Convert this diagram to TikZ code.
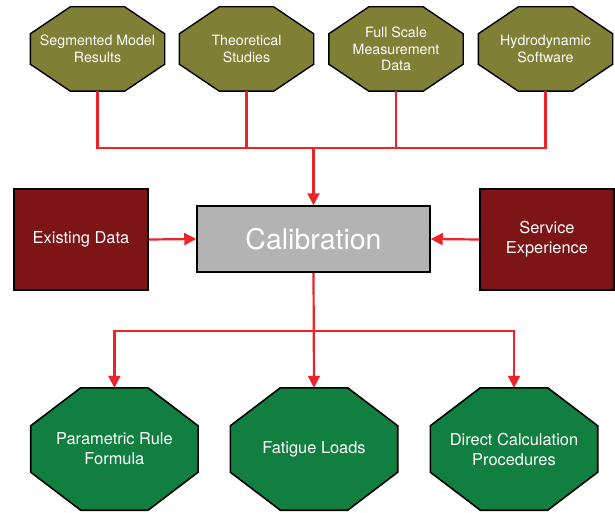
\documentclass[tikz,border=0pt]{standalone}
\usepackage{fontspec}
\setmainfont{TeX Gyre Heros}
\usetikzlibrary{arrows.meta,calc,backgrounds}

\definecolor{olivebox}{HTML}{7F7F35}
\definecolor{darkredbox}{HTML}{7D1416}
\definecolor{greenbox}{HTML}{107F40}
\definecolor{graybox}{HTML}{B3B3B3}
\definecolor{wirered}{HTML}{EE2229}

\tikzset{
  boxtext/.style={rectangle, inner sep=0pt, align=center, text=white},
  topocto/.style={fill=olivebox, draw=black, line width=1.4pt, line join=miter},
  botocto/.style={fill=greenbox, draw=black, line width=1.6pt, line join=miter},
  sidebox/.style={boxtext, fill=darkredbox, draw=black, line width=1.5pt,
    minimum width=134pt, minimum height=101pt,
    font=\fontsize{16.4}{20}\selectfont},
  calbox/.style={boxtext, fill=graybox, draw=black, line width=1.5pt,
    minimum width=233pt, minimum height=66pt,
    font=\fontsize{28.5}{30}\selectfont},
  wire/.style={draw=wirered, line width=2.2pt},
  arrowwire/.style={wire, -{Triangle[length=12pt,width=12pt]}},
}

% Octagonal box: name, position, width, height, chamfer x, chamfer y, outline style, text
\newcommand\octbox[8]{%
  \node[boxtext, minimum width=#3, minimum height=#4] (#1) at (#2) {#8};
  \begin{scope}[on background layer]
    \path[#7] ($(#1.north west)+(#5,0)$) -- ($(#1.north east)+(-#5,0)$)
      -- ($(#1.north east)+(0,#6)$) -- ($(#1.south east)+(0,-#6)$)
      -- ($(#1.south east)+(-#5,0)$) -- ($(#1.south west)+(#5,0)$)
      -- ($(#1.south west)+(0,-#6)$) -- ($(#1.north west)+(0,#6)$) -- cycle;
  \end{scope}}

\begin{document}
\begin{tikzpicture}[x=1pt,y=-1pt]
  \useasboundingbox (0,0) rectangle (615,513);

  % sources
  \begin{scope}[font=\fontsize{14.2}{16.5}\selectfont]
    \octbox{seg}{97.5,49}{134pt}{84pt}{40}{27}{topocto}{Segmented Model\\Results}
    \octbox{theo}{246.5,49}{134pt}{84pt}{40}{27}{topocto}{Theoretical\\Studies}
    \octbox{full}{396,49}{134pt}{84pt}{40}{27}{topocto}{Full Scale\\Measurement\\Data}
    \octbox{hydro}{545.5,49}{134pt}{84pt}{40}{27}{topocto}{Hydrodynamic\\Software}
  \end{scope}

  % central block and side inputs
  \node[calbox] (cal) at (313.5,239) {Calibration};
  \node[sidebox] (exist) at (81,239.5) {Existing Data};
  \node[sidebox] (serv) at (547,239.5) {Service\\Experience};

  % results
  \begin{scope}[font=\fontsize{16.4}{20}\selectfont]
    \octbox{param}{114.4,449}{167pt}{122pt}{50}{38}{botocto}{Parametric Rule\\Formula}
    \octbox{fatigue}{314,449}{167pt}{122pt}{50}{38}{botocto}{Fatigue Loads}
    \octbox{direct}{514,449}{167pt}{122pt}{50}{38}{botocto}{Direct Calculation\\Procedures}
  \end{scope}

  % junctions
  \coordinate (jtop) at (313.5,148);
  \coordinate (jbot) at (313.5,331);

  % upper collector
  \draw[wire] (seg.south) |- (hydro.south |- jtop) -- (hydro.south);
  \draw[wire] (theo.south) -- (theo.south |- jtop);
  \draw[wire] (full.south) -- (full.south |- jtop);
  \draw[arrowwire] (jtop) -- (cal.north);

  % side arrows
  \draw[arrowwire] (exist.east) -- (cal.west);
  \draw[arrowwire] (serv.west) -- (cal.east);

  % lower distributor
  \draw[arrowwire] (cal.south) -- (fatigue.north);
  \draw[arrowwire] (jbot) -| (param.north);
  \draw[arrowwire] (jbot) -| (direct.north);
\end{tikzpicture}
\end{document}
